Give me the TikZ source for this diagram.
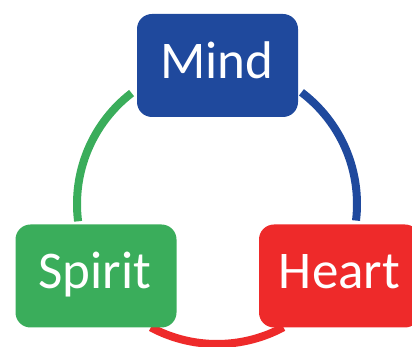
\documentclass[tikz,border=0pt]{standalone}
\usepackage{fontspec}
\setmainfont{Carlito}
\definecolor{mindblue}{RGB}{31,73,157}
\definecolor{spiritgreen}{RGB}{58,173,91}
\definecolor{heartred}{RGB}{238,42,42}
\begin{document}
\begin{tikzpicture}[x=1pt,y=1pt,
  box/.style={rounded corners=15pt, draw=none, minimum width=161pt, minimum height=103pt, inner sep=0pt},
  lbl/.style={text=white, font=\fontsize{53}{60}\selectfont, anchor=base, inner sep=0pt},
  ring/.style={line width=8pt, line cap=butt}]
\clip (0,0) rectangle (412,347);
\coordinate (C) at (217,143);
% arcs
\draw[ring, spiritgreen] ([shift={(127.6:140pt)}]C) arc[start angle=127.6, end angle=187.1, radius=140pt];
\draw[ring, mindblue] ([shift={(52.9:140pt)}]C) arc[start angle=52.9, end angle=-6.8, radius=140pt];
\draw[ring, heartred] ([shift={(241.8:140pt)}]C) arc[start angle=241.8, end angle=298.3, radius=140pt];
% boxes
\node[box, fill=mindblue] (mind) at (217.5,281.5) {};
\node[box, fill=spiritgreen] (spirit) at (96,71) {};
\node[box, fill=heartred] (heart) at (339.5,71) {};
% labels
\node[lbl] (mindt) at (217,268) {Mind};
\node[lbl] (spiritt) at (95,58.7) {Spirit};
\node[lbl] (heartt) at (339.5,58.7) {Heart};
\end{tikzpicture}
\end{document}
